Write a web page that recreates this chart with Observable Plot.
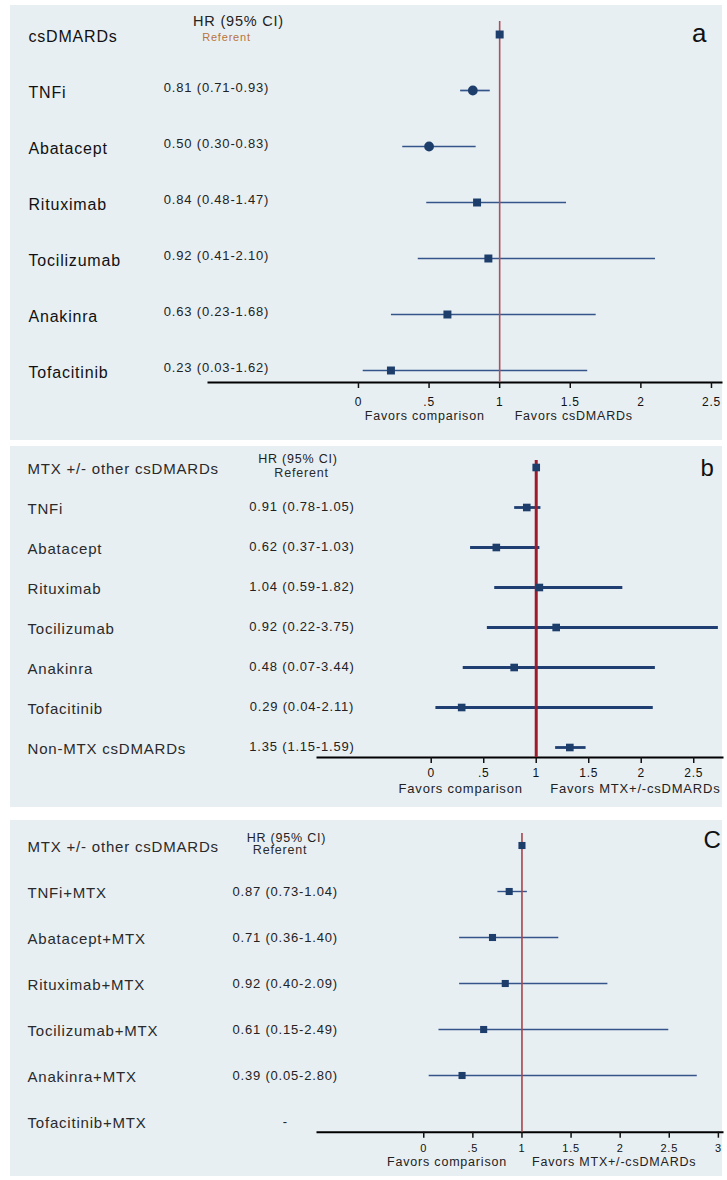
<!DOCTYPE html>
<html>
<head>
<meta charset="utf-8">
<script src="https://cdn.jsdelivr.net/npm/d3@7"></script>
<script src="https://cdn.jsdelivr.net/npm/@observablehq/plot@0.6"></script>
<style>
html, body { margin: 0; padding: 0; background: #fff; }
#root { position: relative; width: 727px; height: 1180px; }
.panel { position: absolute; left: 10px; }
</style>
</head>
<body>
<div id="root">
  <div class="panel" id="pa" style="top:5px"></div>
  <div class="panel" id="pb" style="top:446px"></div>
  <div class="panel" id="pc" style="top:820px"></div>
</div>
<script>
// ---------- Panel a ----------
const catsA = ["csDMARDs", "TNFi", "Abatacept", "Rituximab", "Tocilizumab", "Anakinra", "Tofacitinib"];
const hrA = [1, 0.81, 0.50, 0.84, 0.92, 0.63, 0.23];
const loA = [null, 0.72, 0.31, 0.48, 0.42, 0.23, 0.03];
const hiA = [null, 0.93, 0.83, 1.47, 2.10, 1.68, 1.62];
const hrTextA = ["Referent", "0.81 (0.71-0.93)", "0.50 (0.30-0.83)", "0.84 (0.48-1.47)", "0.92 (0.41-2.10)", "0.63 (0.23-1.68)", "0.23 (0.03-1.62)"];
const roundA = ["TNFi", "Abatacept"];
const ticksA = [0, 0.5, 1, 1.5, 2, 2.5];
const tickLabelsA = ["0", ".5", "1", "1.5", "2", "2.5"];
const favorsA = ["Favors comparison", "Favors csDMARDs"];

// ---------- Panel b ----------
const catsB = ["MTX +/- other csDMARDs", "TNFi", "Abatacept", "Rituximab", "Tocilizumab", "Anakinra", "Tofacitinib", "Non-MTX csDMARDs"];
const hrB = [1, 0.91, 0.62, 1.03, 1.19, 0.79, 0.29, 1.32];
const loB = [null, 0.79, 0.37, 0.60, 0.53, 0.30, 0.04, 1.18];
const hiB = [null, 1.04, 1.03, 1.82, 2.73, 2.13, 2.11, 1.47];
const hrTextB = ["Referent", "0.91 (0.78-1.05)", "0.62 (0.37-1.03)", "1.04 (0.59-1.82)", "0.92 (0.22-3.75)", "0.48 (0.07-3.44)", "0.29 (0.04-2.11)", "1.35 (1.15-1.59)"];
const ticksB = [0, 0.5, 1, 1.5, 2, 2.5];
const tickLabelsB = ["0", ".5", "1", "1.5", "2", "2.5"];
const favorsB = ["Favors comparison", "Favors MTX+/-csDMARDs"];

// ---------- Panel c ----------
const catsC = ["MTX +/- other csDMARDs", "TNFi+MTX", "Abatacept+MTX", "Rituximab+MTX", "Tocilizumab+MTX", "Anakinra+MTX", "Tofacitinib+MTX"];
const hrC = [1, 0.87, 0.70, 0.83, 0.61, 0.39, null];
const loC = [null, 0.75, 0.36, 0.36, 0.15, 0.05, null];
const hiC = [null, 1.05, 1.37, 1.87, 2.49, 2.78, null];
const hrTextC = ["Referent", "0.87 (0.73-1.04)", "0.71 (0.36-1.40)", "0.92 (0.40-2.09)", "0.61 (0.15-2.49)", "0.39 (0.05-2.80)", "-"];
const ticksC = [0, 0.5, 1, 1.5, 2, 2.5, 3];
const tickLabelsC = ["0", ".5", "1", "1.5", "2", "2.5", "3"];
const favorsC = ["Favors comparison", "Favors MTX+/-csDMARDs"];

const hrHeader = "HR (95% CI)";
const refValue = 1;

function forest(o) {
  const rows = o.cats.map((name, i) => ({name, hr: o.hr[i], lo: o.lo[i], hi: o.hi[i], txt: o.hrText[i], i}));
  const withCI = rows.filter(d => d.lo != null && d.hi != null);
  const withHR = rows.filter(d => d.hr != null);
  const round = o.round || [];
  const sq = withHR.filter(d => !round.includes(d.name));
  const circ = withHR.filter(d => round.includes(d.name));
  const ref = rows.filter(d => d.i === 0);
  const others = rows.filter(d => d.i > 0);
  const fmt = d => o.tickLabels[o.ticks.indexOf(d)];
  return Plot.plot({
    width: 712, height: o.height,
    marginLeft: o.mL, marginRight: o.mR, marginTop: o.mT, marginBottom: o.mB,
    style: {background: "#e8eff3", fontFamily: "'Liberation Sans', Arial, sans-serif", color: "#111", letterSpacing: "0.8px", overflow: "visible"},
    x: {domain: o.xDomain},
    y: {type: "point", domain: o.cats, range: o.yRange, padding: 0, axis: null},
    marks: [
      Plot.frame({anchor: "bottom", stroke: "#000", strokeWidth: 2}),
      Plot.axisX({ticks: o.ticks, tickFormat: fmt, tickSize: 6, tickPadding: o.tickPad, fontSize: o.tickSize, strokeWidth: 1.5, label: null}),
      Plot.link(withCI, {x1: "lo", x2: "hi", y1: "name", y2: "name", stroke: o.ciColor, strokeWidth: o.ciWidth}),
      Plot.ruleX([refValue], {stroke: o.refColor, strokeWidth: o.refWidth}),
      Plot.dot(sq, {x: "hr", y: "name", symbol: "square", r: o.r, fill: "#1d3d6b"}),
      Plot.dot(circ, {x: "hr", y: "name", symbol: "circle", r: o.r + 0.4, fill: "#1d3d6b"}),
      Plot.text(rows, {y: "name", text: "name", frameAnchor: "left", dx: o.labelDx, dy: o.labelDy, textAnchor: "start", fontSize: o.labelSize, fill: o.labelColor}),
      Plot.text(others, {y: "name", text: "txt", frameAnchor: "left", dx: o.hrDx, dy: o.hrDy, textAnchor: "middle", fontSize: 13, fill: "#222"}),
      Plot.text(ref, {y: "name", text: "txt", frameAnchor: "left", dx: o.refDx, dy: o.refDy, textAnchor: "middle", fontSize: o.refSize, fill: o.refTextColor}),
      Plot.text(ref, {y: "name", text: () => hrHeader, frameAnchor: "left", dx: o.headDx, dy: o.headDy, textAnchor: "middle", fontSize: o.headSize, fill: "#222"}),
      Plot.text(ref, {y: "name", text: () => o.letter, frameAnchor: "right", dx: o.letterDx, dy: o.letterDy, textAnchor: "middle", fontSize: o.letterSize, fill: "#111"}),
      Plot.text([o.favors[0]], {x: () => refValue, text: d => d, frameAnchor: "bottom", dx: o.favLdx, dy: o.favDy, textAnchor: "end", fontSize: o.favSize, fill: "#222"}),
      Plot.text([o.favors[1]], {x: () => refValue, text: d => d, frameAnchor: "bottom", dx: o.favRdx, dy: o.favDy, textAnchor: "start", fontSize: o.favSize, fill: "#222"})
    ]
  });
}

document.getElementById("pa").append(forest({
  cats: catsA, hr: hrA, lo: loA, hi: hiA, hrText: hrTextA, round: roundA,
  ticks: ticksA, tickLabels: tickLabelsA, favors: favorsA, letter: "a",
  height: 435, mL: 198, mR: 1, mT: 16, mB: 58,
  xDomain: [-1.062, 2.571], yRange: [26, 367], tickPad: 8.5, tickSize: 12,
  ciColor: "#34558a", ciWidth: 1.7, refColor: "#aa525c", refWidth: 1.6, r: 4.5,
  labelDx: -180, labelDy: 2, labelSize: 16, labelColor: "#111",
  hrDx: 8, hrDy: -3,
  refDx: 18, refDy: 2.5, refSize: 11, refTextColor: "#b8743a",
  headDx: 30, headDy: -13, headSize: 14.5,
  letterDx: -22, letterDy: -1, letterSize: 26,
  favLdx: -15, favRdx: 15, favDy: 37, favSize: 12.5
}));

document.getElementById("pb").append(forest({
  cats: catsB, hr: hrB, lo: loB, hi: hiB, hrText: hrTextB,
  ticks: ticksB, tickLabels: tickLabelsB, favors: favorsB, letter: "b",
  height: 361, mL: 307, mR: 0, mT: 14, mB: 50,
  xDomain: [-1.083, 2.774], yRange: [20.5, 302], tickPad: 5, tickSize: 12,
  ciColor: "#1f3f72", ciWidth: 2.8, refColor: "#9e1b2b", refWidth: 3, r: 4.3,
  labelDx: -290, labelDy: 1.5, labelSize: 15, labelColor: "#2a2a2a",
  hrDx: -15.5, hrDy: -1,
  refDx: -16, refDy: 5, refSize: 12.5, refTextColor: "#2a2a2a",
  headDx: -19.5, headDy: -8.5, headSize: 12.5,
  letterDx: -15, letterDy: 0.5, letterSize: 24,
  favLdx: -13.5, favRdx: 14, favDy: 35, favSize: 13
}));

document.getElementById("pc").append(forest({
  cats: catsC, hr: hrC, lo: loC, hi: hiC, hrText: hrTextC,
  ticks: ticksC, tickLabels: tickLabelsC, favors: favorsC, letter: "C",
  height: 356, mL: 307, mR: 0, mT: 13, mB: 44.3,
  xDomain: [-1.082, 3.042], yRange: [22.3, 303.7], tickPad: 5.5, tickSize: 11,
  ciColor: "#34548a", ciWidth: 1.4, refColor: "#a8444c", refWidth: 1.6, r: 4,
  labelDx: -290, labelDy: 1.5, labelSize: 15, labelColor: "#2a2a2a",
  hrDx: -32.3, hrDy: 0,
  refDx: -37.5, refDy: 4.5, refSize: 12.5, refTextColor: "#2a2a2a",
  headDx: -31, headDy: -8, headSize: 12.5,
  letterDx: -10, letterDy: -5, letterSize: 24,
  favLdx: -15, favRdx: 10, favDy: 34, favSize: 12.5
}));
</script>
</body>
</html>
